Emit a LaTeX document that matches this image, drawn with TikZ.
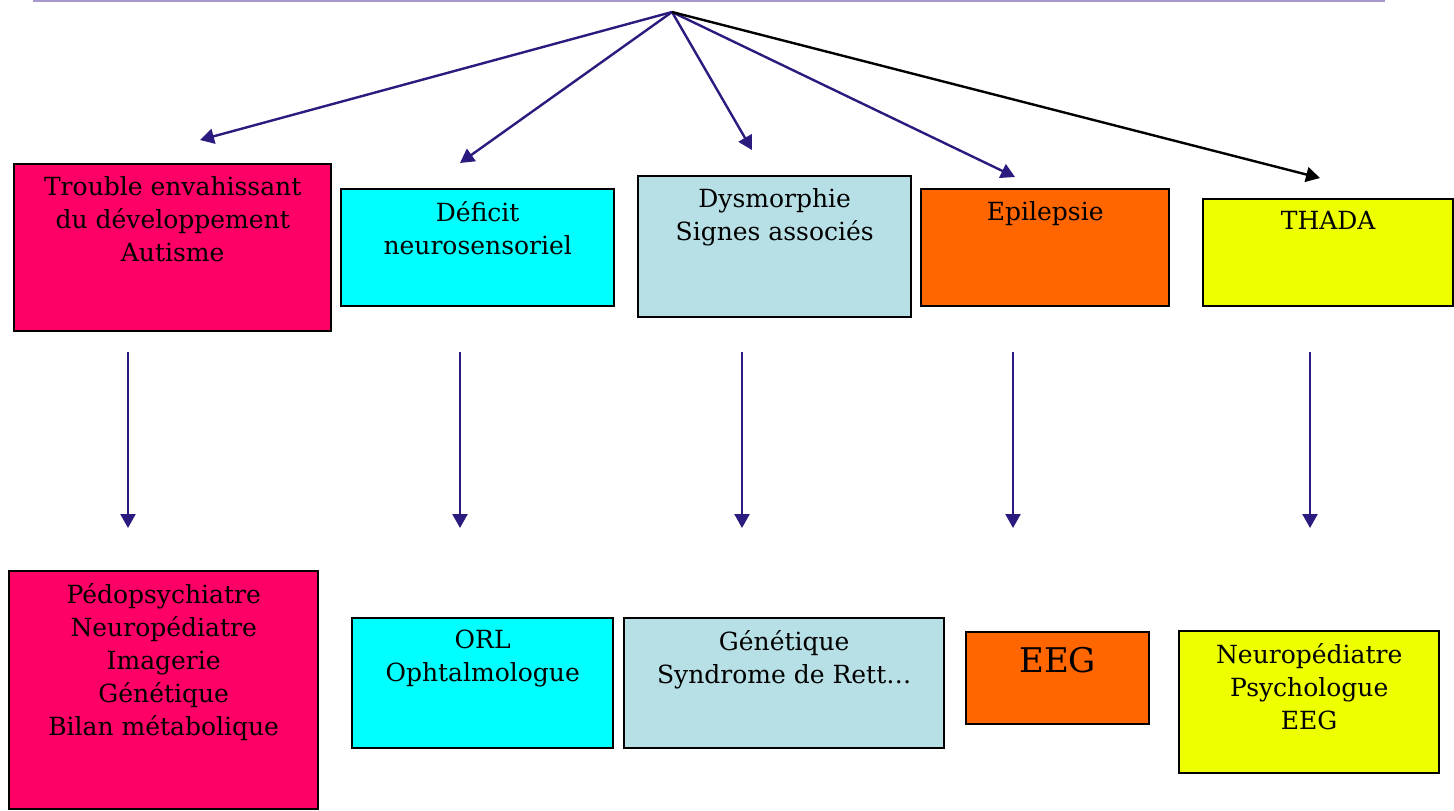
\documentclass[tikz,border=0pt]{standalone}
\usepackage{fontspec}
\setmainfont{DejaVu Serif}
\usetikzlibrary{arrows.meta}
\definecolor{rose}{HTML}{FF0066}
\definecolor{turquoise}{HTML}{00FFFF}
\definecolor{bleuclair}{HTML}{B6E0E6}
\definecolor{orangevif}{HTML}{FF6600}
\definecolor{jaune}{HTML}{EEFF00}
\definecolor{indigo}{HTML}{2B1B7E}
\definecolor{filet}{HTML}{A899CC}
\tikzset{every node/.style={font=\fontsize{12.5}{16.5}\selectfont},line cap=round,line join=round}
\tikzset{boite/.style={draw=black,line width=1.2pt,anchor=north west,inner sep=0pt},
  texte/.style={anchor=north,align=center,inner sep=0pt,yshift=-6.5pt},
  fleche/.style={-{Triangle[length=7pt,width=7.5pt]},line width=1.2pt,draw=indigo}}

\begin{document}
\begin{tikzpicture}[x=0.5pt,y=-0.5pt]
  \path[use as bounding box] (0,0) rectangle (1454,810);
  % filet du haut, toutes les flèches partent du même point
  \draw[line width=1pt,draw=filet] (33,1)--(1385,1);
  \coordinate (sommet) at (672,12);

  \node[boite,fill=rose,minimum width=158.5pt,minimum height=83.5pt,
    label={[texte]north:Trouble envahissant\\du développement\\Autisme}] (ted) at (13,163) {};
  \node[boite,fill=turquoise,minimum width=136.5pt,minimum height=58.5pt,
    label={[texte]north:Déficit\\neurosensoriel}] (deficit) at (340,188) {};
  \node[boite,fill=bleuclair,minimum width=136.5pt,minimum height=70.5pt,
    label={[texte]north:Dysmorphie\\Signes associés}] (dysmorphie) at (637,175) {};
  \node[boite,fill=orangevif,minimum width=124pt,minimum height=58.5pt,
    label={[texte]north:Epilepsie}] (epilepsie) at (920,188) {};
  \node[boite,fill=jaune,minimum width=125pt,minimum height=53.5pt,
    label={[texte]north:THADA}] (thada) at (1202,198) {};

  \coordinate (ted-haut) at (200,140);
  \coordinate (deficit-haut) at (460,163);
  \coordinate (dysmorphie-haut) at (752,150);
  \coordinate (epilepsie-haut) at (1015,177);
  \coordinate (thada-haut) at (1320,178);
  \draw[fleche] (sommet)--(ted-haut);
  \draw[fleche] (sommet)--(deficit-haut);
  \draw[fleche] (sommet)--(dysmorphie-haut);
  \draw[fleche] (sommet)--(epilepsie-haut);
  \draw[fleche,draw=black] (sommet)--(thada-haut);

  \coordinate (ted-bas) at (128,352);
  \coordinate (deficit-bas) at (460,352);
  \coordinate (dysmorphie-bas) at (742,352);
  \coordinate (epilepsie-bas) at (1013,352);
  \coordinate (thada-bas) at (1310,352);
  \coordinate (ted-suite) at (128,528);
  \coordinate (deficit-suite) at (460,528);
  \coordinate (dysmorphie-suite) at (742,528);
  \coordinate (epilepsie-suite) at (1013,528);
  \coordinate (thada-suite) at (1310,528);
  \draw[fleche] (ted-bas)--(ted-suite);
  \draw[fleche] (deficit-bas)--(deficit-suite);
  \draw[fleche] (dysmorphie-bas)--(dysmorphie-suite);
  \draw[fleche] (epilepsie-bas)--(epilepsie-suite);
  \draw[fleche] (thada-bas)--(thada-suite);

  \node[boite,fill=rose,minimum width=154.5pt,minimum height=119pt,
    label={[texte]north:Pédopsychiatre\\Neuropédiatre\\Imagerie\\Génétique\\Bilan métabolique}] (bilan) at (8,570) {};
  \node[boite,fill=turquoise,minimum width=130.5pt,minimum height=65pt,
    label={[texte]north:ORL\\Ophtalmologue}] (orl) at (351,617) {};
  \node[boite,fill=bleuclair,minimum width=160pt,minimum height=65pt,
    label={[texte]north:Génétique\\Syndrome de Rett…}] (genetique) at (623,617) {};
  \node[boite,fill=orangevif,minimum width=91.5pt,minimum height=46pt,
    label={[texte,yshift=-1.5pt,font=\fontsize{17}{20}\selectfont]north:EEG}] (eeg) at (965,631) {};
  \node[boite,fill=jaune,minimum width=130pt,minimum height=71pt,
    label={[texte]north:Neuropédiatre\\Psychologue\\EEG}] (suivi) at (1178,630) {};
\end{tikzpicture}
\end{document}
